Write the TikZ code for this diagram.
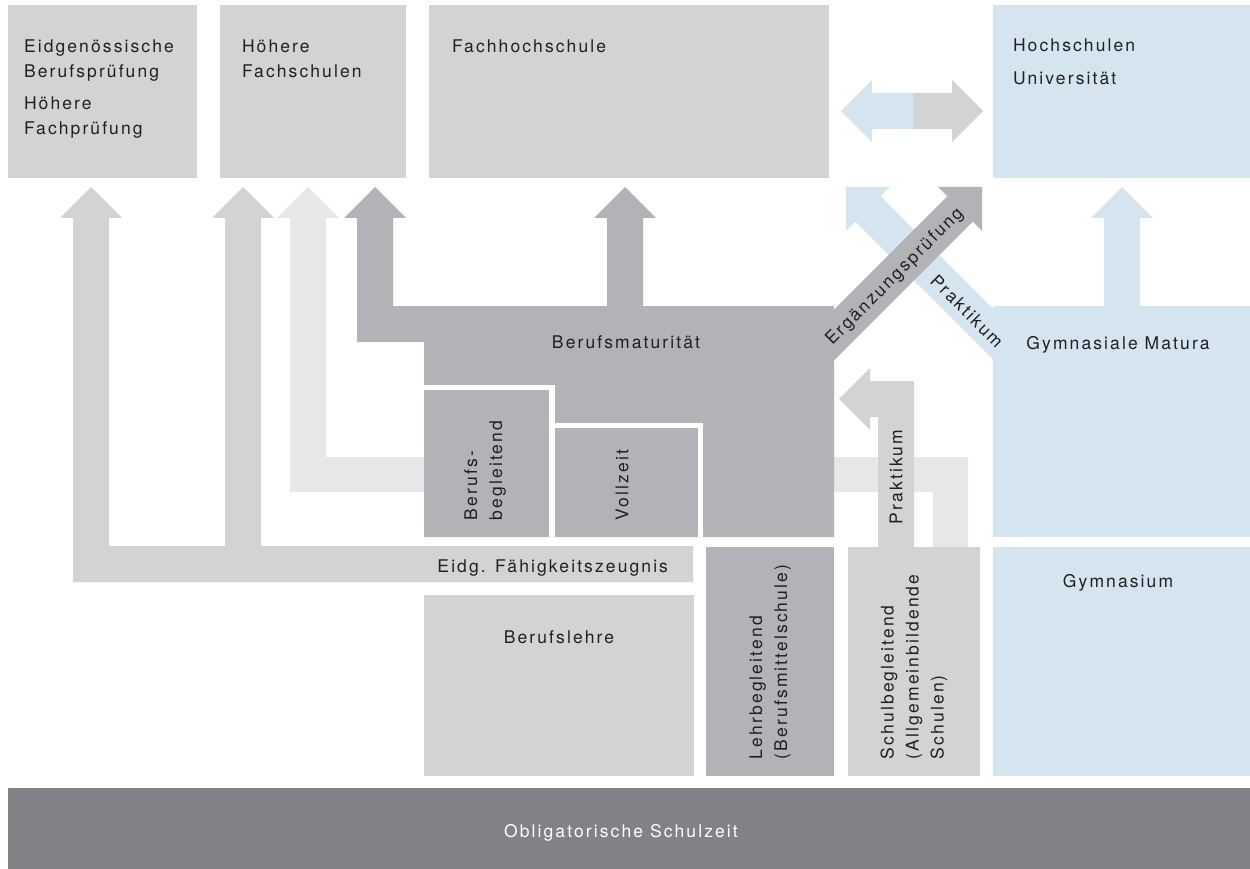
\documentclass[tikz,border=0pt]{standalone}
\usepackage{fontspec}
\setmainfont{TeX Gyre Heros}[LetterSpace=12]
\definecolor{lg}{HTML}{D1D3D4}
\definecolor{vlg}{HTML}{E6E7E8}
\definecolor{dg}{HTML}{B1B3B6}
\definecolor{bl}{HTML}{D5E5F0}
\definecolor{og}{HTML}{808285}
\definecolor{txt}{HTML}{231F20}
\tikzset{
  box/.style={inner sep=0pt, outer sep=0pt, anchor=north west, draw=none},
  lbl/.style={inner sep=0pt, outer sep=0pt, text=txt, font=\fontsize{17.5}{25}\selectfont},
  vlbl/.style={lbl, rotate=90, anchor=west, align=left},
}
\begin{document}
\begin{tikzpicture}[x=1pt,y=-1pt]
\useasboundingbox (0,0) rectangle (1250,869);

% top row boxes
\node[box, fill=lg, minimum width=189pt, minimum height=173pt] (bp) at (8,5) {};
\node[box, fill=lg, minimum width=186pt, minimum height=173pt] (hf) at (220,5) {};
\node[box, fill=lg, minimum width=400pt, minimum height=173pt] (fh) at (429,5) {};
\node[box, fill=bl, minimum width=257pt, minimum height=173pt] (hs) at (993,5) {};

% very light arrow (Schulbegleitend -> Hoehere Fachschulen)
\fill[vlg] (968,547) -- (968,457) -- (326,457) -- (326,218) -- (339,218) -- (308,187)
  -- (277,218) -- (290,218) -- (290,492) -- (933,492) -- (933,547) -- cycle;

% light grey arrows from Eidg. Faehigkeitszeugnis
\fill[lg] (73,582) -- (693,582) -- (693,546) -- (261,546) -- (261,218) -- (274,218)
  -- (243,187) -- (212,218) -- (225,218) -- (225,546) -- (109,546) -- (109,218)
  -- (122,218) -- (91,187) -- (60,218) -- (73,218) -- cycle;
\coordinate (efz) at (668,572);

% Berufsmaturitaet block with arrows
\fill[dg] (357,218) -- (357,342) -- (424,342) -- (424,537) -- (834,537) -- (834,306)
  -- (643,306) -- (643,218) -- (656,218) -- (625,187) -- (594,218) -- (607,218)
  -- (607,306) -- (393,306) -- (393,218) -- (406,218) -- (375,187) -- (344,218) -- cycle;
\coordinate (bm) at (626,348);

% inner boxes with white separations
\fill[white] (424,385) rectangle (555,537);
\fill[white] (549,423) rectangle (703,537);
\node[box, fill=dg, minimum width=125pt, minimum height=147pt] (bb) at (424,390) {};
\node[box, fill=dg, minimum width=143pt, minimum height=109pt] (vz) at (555,428) {};

% Praktikum arrow (Schulbegleitend -> Berufsmaturitaet)
\fill[lg] (878,547) -- (878,417) -- (870,417) -- (870,430) -- (839,399) -- (870,368)
  -- (870,381) -- (914,381) -- (914,547) -- cycle;

% Gymnasiale Matura, Gymnasium
\node[box, fill=bl, minimum width=257pt, minimum height=231pt] (gm) at (993,306) {};
\node[box, fill=bl, minimum width=257pt, minimum height=229pt] (gy) at (993,547) {};

% blue up arrow
\fill[bl] (1104,310) -- (1104,218) -- (1091,218) -- (1122,187) -- (1153,218)
  -- (1140,218) -- (1140,310) -- cycle;

% blue diagonal (Praktikum)
\fill[bl] (846,187) -- (889.84,187) -- (880.65,196.19) -- (1032.73,348.27)
  -- (1007.27,373.73) -- (855.19,221.65) -- (846,230.84) -- cycle;

% grey diagonal (Ergaenzungspruefung)
\fill[dg] (797.27,346.27) -- (947.35,196.19) -- (938.16,187) -- (982,187)
  -- (982,230.84) -- (972.81,221.65) -- (822.73,371.73) -- cycle;

% double arrow
\fill[bl] (841,111) -- (872,80) -- (872,93) -- (913,93) -- (913,129) -- (872,129)
  -- (872,142) -- cycle;
\fill[lg] (913,93) -- (952,93) -- (952,80) -- (983,111) -- (952,142) -- (952,129)
  -- (913,129) -- cycle;

% bottom boxes
\node[box, fill=lg, minimum width=270pt, minimum height=181pt] (bl) at (424,595) {};
\node[box, fill=dg, minimum width=128pt, minimum height=229pt] (lb) at (706,547) {};
\node[box, fill=lg, minimum width=132pt, minimum height=229pt] (sb) at (848,547) {};
\node[box, fill=og, minimum width=1242pt, minimum height=81pt] (os) at (8,788) {};

% labels (base anchor of a multi-line node = baseline of its last line)
\node[lbl, anchor=base west, align=left] (bpt) at (24,135)
  {Eidgenössische\\Berufsprüfung\\[7pt]Höhere\\Fachprüfung};
\node[lbl, anchor=base west, align=left] (hft) at (242,78) {Höhere\\Fachschulen};
\node[lbl, anchor=base west] (fht) at (452,53) {Fachhochschule};
\node[lbl, anchor=base west, align=left] (hst) at (1013,84.5) {Hochschulen\\[7.5pt]Universität};
\node[lbl, anchor=base] (bmt) at (bm) {Berufsmaturität};
\node[lbl, anchor=base] (gmt) at (1118,349) {Gymnasiale Matura};
\node[lbl, anchor=base] (gyt) at (1118,587) {Gymnasium};
\node[lbl, anchor=base east] (efzt) at (efz) {Eidg. Fähigkeitszeugnis};
\node[lbl, anchor=base] (blt) at (559,643) {Berufslehre};
\node[lbl, anchor=base, text=white] (ost) at (621,837) {Obligatorische Schulzeit};
\node[vlbl] (bbt) at (485,520) {Berufs-\\begleitend};
\node[vlbl] (vzt) at (622,520) {Vollzeit};
\node[vlbl] (pkt) at (896,524) {Praktikum};
\node[vlbl] (lbt) at (770,759) {Lehrbegleitend\\(Berufsmittelschule)};
\node[vlbl] (sbt) at (914,759) {Schulbegleitend\\(Allgemeinbildende\\Schulen)};
\node[lbl, rotate=45] (ergt) at (895,277) {Ergänzungsprüfung};
\node[lbl, rotate=-45] (pk2t) at (967,311) {Praktikum};
\end{tikzpicture}
\end{document}
